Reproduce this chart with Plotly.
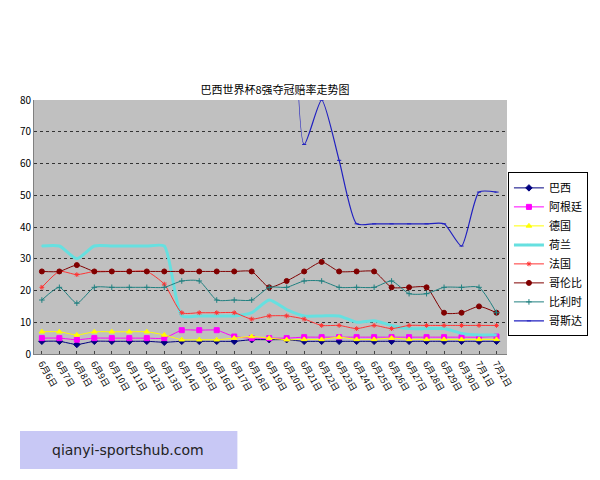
import plotly.graph_objects as go

dates = [f"6月{d}日" for d in range(6, 31)] + ["7月1日", "7月2日"]
names = ["巴西", "阿根廷", "德国", "荷兰", "法国", "哥伦比", "比利时", "哥斯达"]
brazil = [4, 4, 3, 4, 4, 4, 4, 3.7, 4, 4, 4, 4, 4.5, 4.5, 4.5, 4, 4, 4, 4, 4, 4, 4, 4, 4, 4, 4, 4]
argentina = [5, 5, 4.5, 5, 5, 5, 5, 5, 7.5, 7.5, 7.5, 5.5, 5, 5, 5, 5.3, 5.3, 5.3, 5.3, 5.3, 5.3, 5.3, 5.3, 5.3, 5.3, 5.3, 5.5]
germany = [7, 7, 6, 7, 7, 7, 7, 6, 4.5, 4.5, 4.5, 5, 5.5, 5, 4.5, 4.6, 4.6, 5.3, 4.6, 4.6, 5, 4.6, 4.6, 4.6, 4.6, 4.6, 4.6]
netherlands = [34, 34, 30, 34, 34, 34, 34, 34, 12, 12, 12, 12, 13, 17, 14, 12, 12, 12, 10, 10.5, 9, 8, 8, 8, 6.5, 6, 6]
france = [21, 26, 25, 26, 26, 26, 26, 22, 13, 13, 13, 13, 11, 12, 12, 11, 9, 9, 8, 9, 8, 9, 9, 9, 9, 9, 9]
colombia = [26, 26, 28, 26, 26, 26, 26, 26, 26, 26, 26, 26, 26, 21, 23, 26, 29, 26, 26, 26, 21, 21, 21, 13, 13, 15, 13]
belgium = [17, 21, 16, 21, 21, 21, 21, 21, 23, 23, 17, 17, 17, 21, 21, 23, 23, 21, 21, 21, 23, 19, 19, 21, 21, 21, 13]
costa = [None] * 14 + [400, 66, 80, 61, 41, 41, 41, 41, 41, 41, 34, 51, 51]

series = [brazil, argentina, germany, netherlands, france, colombia, belgium, costa]
colors = ["#000080", "#ff00ff", "#ffff00", "#66e0e0", "#ff3333", "#800000", "#208080", "#2020c0"]
symbols = ["diamond", "square", "triangle-up", "x-thin", "asterisk-open", "circle", "cross-thin", "line-ew"]
sizes = [5, 5, 5, 1, 4, 5, 4, 3]
widths = [1, 1, 1, 3, 1, 1, 1, 1.2]

fig = go.Figure()
for n, s, c, sym, sz, w in zip(names, series, colors, symbols, sizes, widths):
    fig.add_trace(go.Scatter(
        x=dates, y=s, name=n, mode="lines+markers",
        line=dict(color=c, width=w, shape="spline", smoothing=0.6),
        marker=dict(symbol=sym, size=sz, color=c, line=dict(color=c, width=1)),
        connectgaps=False,
    ))

fig.update_layout(
    width=592, height=472,
    paper_bgcolor="white", plot_bgcolor="#c0c0c0",
    margin=dict(l=17, r=68, t=92, b=126),
    font=dict(family="Noto Sans CJK SC", size=10, color="black"),
    title=dict(text="巴西世界杯8强夺冠赔率走势图", x=(275 - 8) / 592, xanchor="center",
               y=1 - (90 - 8) / 472, yanchor="middle", font=dict(size=11)),
    showlegend=True,
    legend=dict(x=1.002, y=0.715, xanchor="left", yanchor="top", bgcolor="white",
                bordercolor="black", borderwidth=1, font=dict(size=11), tracegroupgap=0),
    xaxis=dict(type="category", tickangle=60, showgrid=False, showline=True, linecolor="#808080",
               ticks="inside", ticklen=3, tickfont=dict(size=9), range=[-0.45, 26.6]),
    yaxis=dict(range=[0, 80], dtick=10, showgrid=True, gridcolor="#333333", griddash="dot",
               showline=True, linecolor="#808080", zeroline=False, tickfont=dict(size=10)),
)
fig.add_shape(type="rect", xref="paper", yref="paper", x0=-15 / 507, x1=218 / 507,
              y0=(354 - 469) / 254, y1=(354 - 431) / 254,
              fillcolor="#c8c8f5", line=dict(width=0), layer="above")
fig.add_annotation(xref="paper", yref="paper", x=(126 - 25) / 507, y=(354 - 450) / 254,
                   xanchor="center", yanchor="middle", text="qianyi-sportshub.com",
                   showarrow=False, font=dict(family="DejaVu Sans", size=14, color="#222"))
fig.write_html("out.html")
